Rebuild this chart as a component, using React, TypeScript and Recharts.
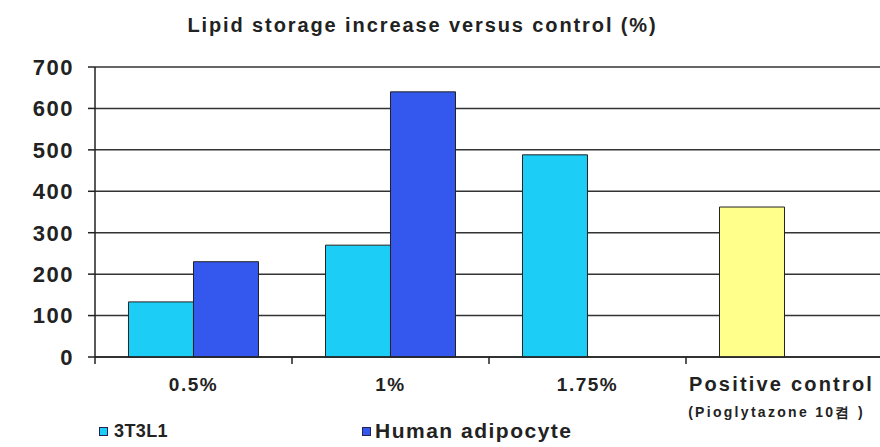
import React from 'react'
import { BarChart, Bar, XAxis, YAxis, CartesianGrid, Cell } from 'recharts'

const categories = ['0.5%', '1%', '1.75%', 'Positive control']
const cells3T3L1 = [133, 270, 488, 362]
const humanAdipocyte: (number | null)[] = [230, 640, null, null]
const yTicks = [0, 100, 200, 300, 400, 500, 600, 700]
const subLabel = '(Pioglytazone 10켬 )'

const CYAN = '#1ccdf6'
const BLUE = '#3457ee'
const YELLOW = '#ffff8c'

const data = categories.map((c, i) => ({
  name: c,
  a: cells3T3L1[i],
  b: humanAdipocyte[i],
}))

const FONT = 'Arial, "Liberation Sans", sans-serif'

function CatTick(props: any) {
  const { x, y, payload } = props
  const isLast = payload.value === 'Positive control'
  return (
    <g>
      <line x1={x - 98.5} x2={x - 98.5} y1={y - 8} y2={y - 1} stroke="#222" strokeWidth={1.5} />
      <text
        x={isLast ? x - 3 : x}
        y={y + 26}
        textAnchor="middle"
        fontFamily={FONT}
        fontWeight="bold"
        fontSize={isLast ? 20 : 19}
        letterSpacing={isLast ? 2.2 : 1.5}
        fill="#222"
      >
        {payload.value}
      </text>
      {isLast && (
        <text
          x={x - 8}
          y={y + 52}
          textAnchor="middle"
          fontFamily={FONT}
          fontWeight="bold"
          fontSize={14}
          letterSpacing={2.3}
          fill="#222"
        >
          {subLabel}
        </text>
      )}
    </g>
  )
}

export default function App() {
  return (
    <div style={{ position: 'absolute', left: 0, top: 0, width: 880, height: 447, background: '#fff', fontFamily: FONT }}>
      <div
        style={{
          position: 'absolute',
          left: 0,
          width: 845,
          top: 14,
          textAlign: 'center',
          fontWeight: 'bold',
          fontSize: 20,
          letterSpacing: 1.9,
          color: '#222',
        }}
      >
        Lipid storage increase versus control (%)
      </div>
      <BarChart
        width={883}
        height={447}
        data={data}
        margin={{ top: 67, right: 0, bottom: 30, left: 0 }}
        barCategoryGap="17%"
        barGap={0}
      >
        <CartesianGrid vertical={false} stroke="#333" strokeWidth={1.5} />
        <XAxis
          dataKey="name"
          height={60}
          axisLine={{ stroke: '#222', strokeWidth: 1.5 }}
          tickLine={false}
          tick={<CatTick />}
          interval={0}
        />
        <YAxis
          width={95}
          domain={[0, 700]}
          ticks={yTicks}
          interval={0}
          axisLine={{ stroke: '#222', strokeWidth: 1.5 }}
          tickLine={{ stroke: '#222', strokeWidth: 1.5 }}
          tickSize={7}
          tickMargin={14}
          tick={{ fill: '#222', fontSize: 22, fontWeight: 'bold', fontFamily: FONT, letterSpacing: 1.5 }}
        />
        <Bar dataKey="a" name="3T3L1" fill={CYAN} stroke="#222" strokeWidth={1} isAnimationActive={false}>
          {data.map((d, i) => (
            <Cell key={i} fill={d.name === 'Positive control' ? YELLOW : CYAN} />
          ))}
        </Bar>
        <Bar dataKey="b" name="Human adipocyte" fill={BLUE} stroke="#222" strokeWidth={1} isAnimationActive={false} />
      </BarChart>
      <div style={{ position: 'absolute', left: 99, top: 421, display: 'flex', alignItems: 'center', fontWeight: 'bold', fontSize: 18, color: '#222' }}>
        <span style={{ display: 'inline-block', width: 7, height: 7, background: CYAN, border: '1px solid #225', marginRight: 6 }} />
        <span style={{ letterSpacing: 0.4 }}>3T3L1</span>
      </div>
      <div style={{ position: 'absolute', left: 362, top: 419, display: 'flex', alignItems: 'center', fontWeight: 'bold', fontSize: 21, color: '#222' }}>
        <span style={{ display: 'inline-block', width: 7, height: 7, background: BLUE, border: '1px solid #225', marginRight: 4 }} />
        <span style={{ letterSpacing: 1.5 }}>Human adipocyte</span>
      </div>
    </div>
  )
}
